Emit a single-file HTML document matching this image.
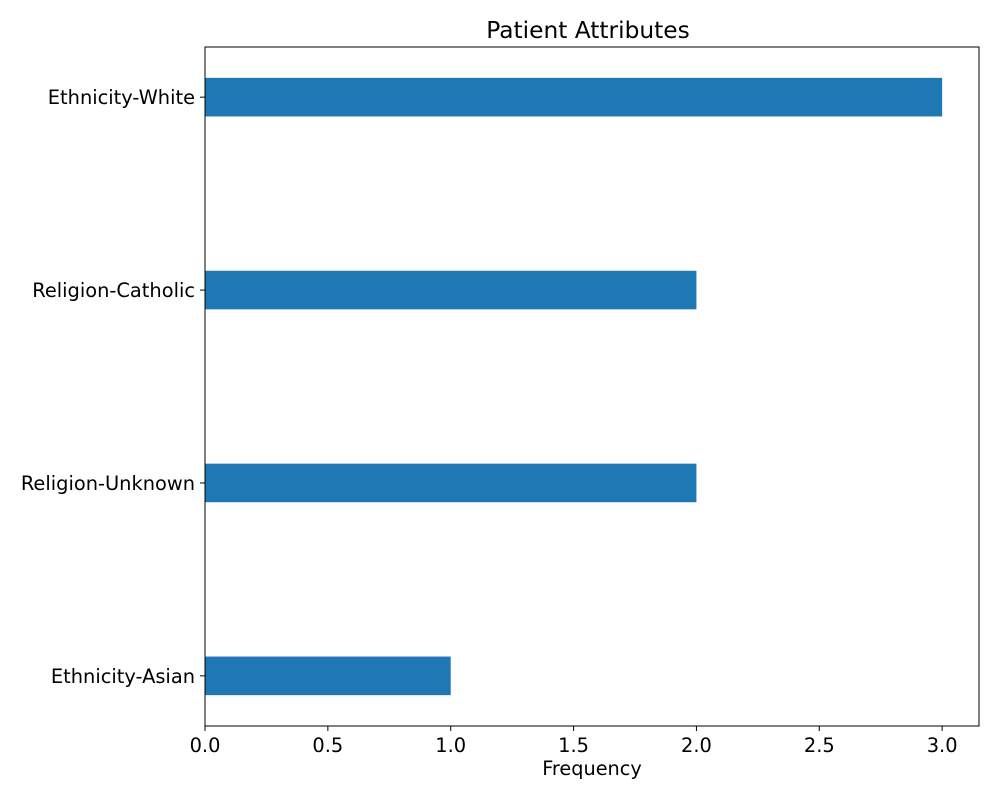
<!DOCTYPE html>
<html><head><meta charset="utf-8"><style>
body{margin:0;background:#fff}
svg{display:block;font-family:"DejaVu Sans","Liberation Sans",sans-serif}
</style></head><body>
<svg id="chart" width="1000" height="800" xmlns="http://www.w3.org/2000/svg">
<text x="588" y="38" font-size="23.3" text-anchor="middle" fill="#000">Patient Attributes</text>
<text x="592" y="775" font-size="19.3" text-anchor="middle" fill="#000">Frequency</text>
<g id="plot"></g>
<rect x="205" y="47" width="774" height="679" fill="none" stroke="#000" stroke-width="1"/>
</svg>
<script>
const categories = ["Ethnicity-White","Religion-Catholic","Religion-Unknown","Ethnicity-Asian"];
const values = [3,2,2,1];
const xTicks = [0,0.5,1,1.5,2,2.5,3];
const xTickLabels = ["0.0","0.5","1.0","1.5","2.0","2.5","3.0"];

const L=205,R=979,T=47,B=726,xMax=3.15;
const xs=v=>L+v/xMax*(R-L);
const pad=0.26,n=categories.length;
const ys=i=>T+(i+pad)/(n-1+2*pad)*(B-T);
const step=ys(1)-ys(0);
const g=document.getElementById('plot');
const NS="http://www.w3.org/2000/svg";
function mk(t,a){const e=document.createElementNS(NS,t);for(const k in a)e.setAttribute(k,a[k]);return e;}
categories.forEach((c,i)=>{
  const barH=step*0.2;
  const r=mk('rect',{x:xs(0),y:ys(i)-barH/2,width:xs(values[i])-xs(0),height:barH,fill:'#1f77b4'});
  
  
  g.appendChild(r);
  const tk=mk('line',{x1:L-5,x2:L,y1:ys(i),y2:ys(i),stroke:'#000'});
  
  
  g.appendChild(tk);
  const tx=mk('text',{x:L-10,y:ys(i)+7,'font-size':19.4,'text-anchor':'end'});
  tx.textContent=c;
  
  
  g.appendChild(tx);
});
xTicks.forEach((v,i)=>{
  const tk=mk('line',{x1:xs(v),x2:xs(v),y1:B,y2:B+5,stroke:'#000'});
  
  
  g.appendChild(tk);
  const tx=mk('text',{x:xs(v),y:B+26,'font-size':19.4,'text-anchor':'middle'});
  tx.textContent=xTickLabels[i];
  
  
  g.appendChild(tx);
});
</script>
</body></html>
